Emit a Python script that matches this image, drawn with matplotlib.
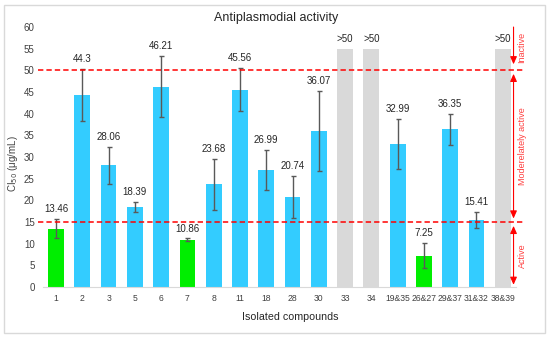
import matplotlib
matplotlib.use("Agg")
import matplotlib.pyplot as plt
from matplotlib.patches import Rectangle
import numpy as np

plt.rcParams['font.family'] = ['Liberation Sans', 'DejaVu Sans']

#%% Data
compounds = ["1", "2", "3", "5", "6", "7", "8", "11", "18", "28", "30", "33",
             "34", "19&35", "26&27", "29&37", "31&32", "38&39"]
ic50 = [13.46, 44.3, 28.06, 18.39, 46.21, 10.86, 23.68, 45.56, 26.99, 20.74,
        36.07, 55, 55, 32.99, 7.25, 36.35, 15.41, 55]
errors = [2.2, 6.05, 4.2, 1.15, 7.05, 0.35, 5.8, 5.05, 4.6, 4.8,
          9.25, 0, 0, 5.75, 2.9, 3.5, 1.85, 0]
value_labels = ["13.46", "44.3", "28.06", "18.39", "46.21", "10.86", "23.68",
                "45.56", "26.99", "20.74", "36.07", ">50", ">50", "32.99",
                "7.25", "36.35", "15.41", ">50"]
activity = ["active", "moderate", "moderate", "moderate", "moderate", "active",
            "moderate", "moderate", "moderate", "moderate", "moderate",
            "inactive", "inactive", "moderate", "active", "moderate",
            "moderate", "inactive"]

thresholds = [50, 15]
zones = [("Inactive", 60, 51.4, 55.4),
         ("Moderelately active", 49.2, 15.8, 32.5),
         ("Active", 14.1, 0.5, 7.3)]

colors = {"active": "#00EE00", "moderate": "#33CCFF", "inactive": "#D9D9D9"}

#%% Figure
fig = plt.figure(figsize=(5.5, 3.38), dpi=100)
ax = fig.add_axes([0.078, 0.151, 0.860, 0.769])

x = np.arange(len(compounds))
bar_colors = [colors[a] for a in activity]
ax.bar(x, ic50, width=0.6, color=bar_colors, zorder=2)

# error bars only where there is a measured value
err_idx = [i for i, e in enumerate(errors) if e > 0]
ax.errorbar(x[err_idx], np.array(ic50)[err_idx], yerr=np.array(errors)[err_idx],
            fmt='none', ecolor='#595959', elinewidth=1.0, capsize=1.8,
            capthick=1.0, zorder=3)

for i, lab in enumerate(value_labels):
    ax.annotate(lab, (x[i], ic50[i] + errors[i]), xytext=(0, 3.5),
                textcoords='offset points', ha='center', va='bottom',
                fontsize=7, color='#262626')

# threshold lines
blend = matplotlib.transforms.blended_transform_factory(ax.transAxes, ax.transData)
for t in thresholds:
    ax.plot([-0.011, 1.015], [t, t], transform=blend, color='#FF0000', lw=1.1,
            dashes=(3.5, 2.0), clip_on=False, zorder=4)

# activity zones on the right
for name, y0, y1, ymid in zones:
    style = '-|>' if name == "Inactive" else '<|-|>'
    ax.annotate('', xy=(0.995, y1), xytext=(0.995, y0),
                xycoords=blend, textcoords=blend,
                arrowprops=dict(arrowstyle=style + ',head_length=0.45,head_width=0.2',
                                color='#FF0000', lw=0.8, shrinkA=0, shrinkB=0),
                annotation_clip=False)
    ax.text(1.013, ymid, name, transform=blend, rotation=90, ha='center',
            va='center', fontsize=6.5, color='#FF4040', clip_on=False)

ax.set_xlim(-0.5, len(compounds) - 0.5)
ax.set_ylim(0, 60)
ax.set_yticks(np.arange(0, 61, 5))
ax.set_xticks(x)
ax.set_xticklabels(compounds)
ax.tick_params(length=0, labelsize=7, colors='#404040')
ax.tick_params(axis='x', labelsize=6.2, pad=5)
ax.tick_params(axis='y', pad=6)
for s in ['top', 'right', 'left']:
    ax.spines[s].set_visible(False)
ax.spines['bottom'].set_color('#D9D9D9')
ax.spines['bottom'].set_linewidth(0.8)

fig.text(0.502, 0.946, "Antiplasmodial activity", ha='center', va='center',
         fontsize=9, color='#262626')
fig.text(0.527, 0.063, "Isolated compounds", ha='center', va='center',
         fontsize=7.7, color='#262626')
fig.text(0.024, 0.515, "CI$_{50}$ (\u03bcg/mL)", ha='center', va='center',
         rotation=90, fontsize=7, color='#404040')

# light frame round the whole chart
fig.patches.append(Rectangle((4 / 550, 5 / 338), 541 / 550, 328 / 338,
                             transform=fig.transFigure, fill=False,
                             ec='#D9D9D9', lw=1))

fig.savefig("out.png", dpi=100)
